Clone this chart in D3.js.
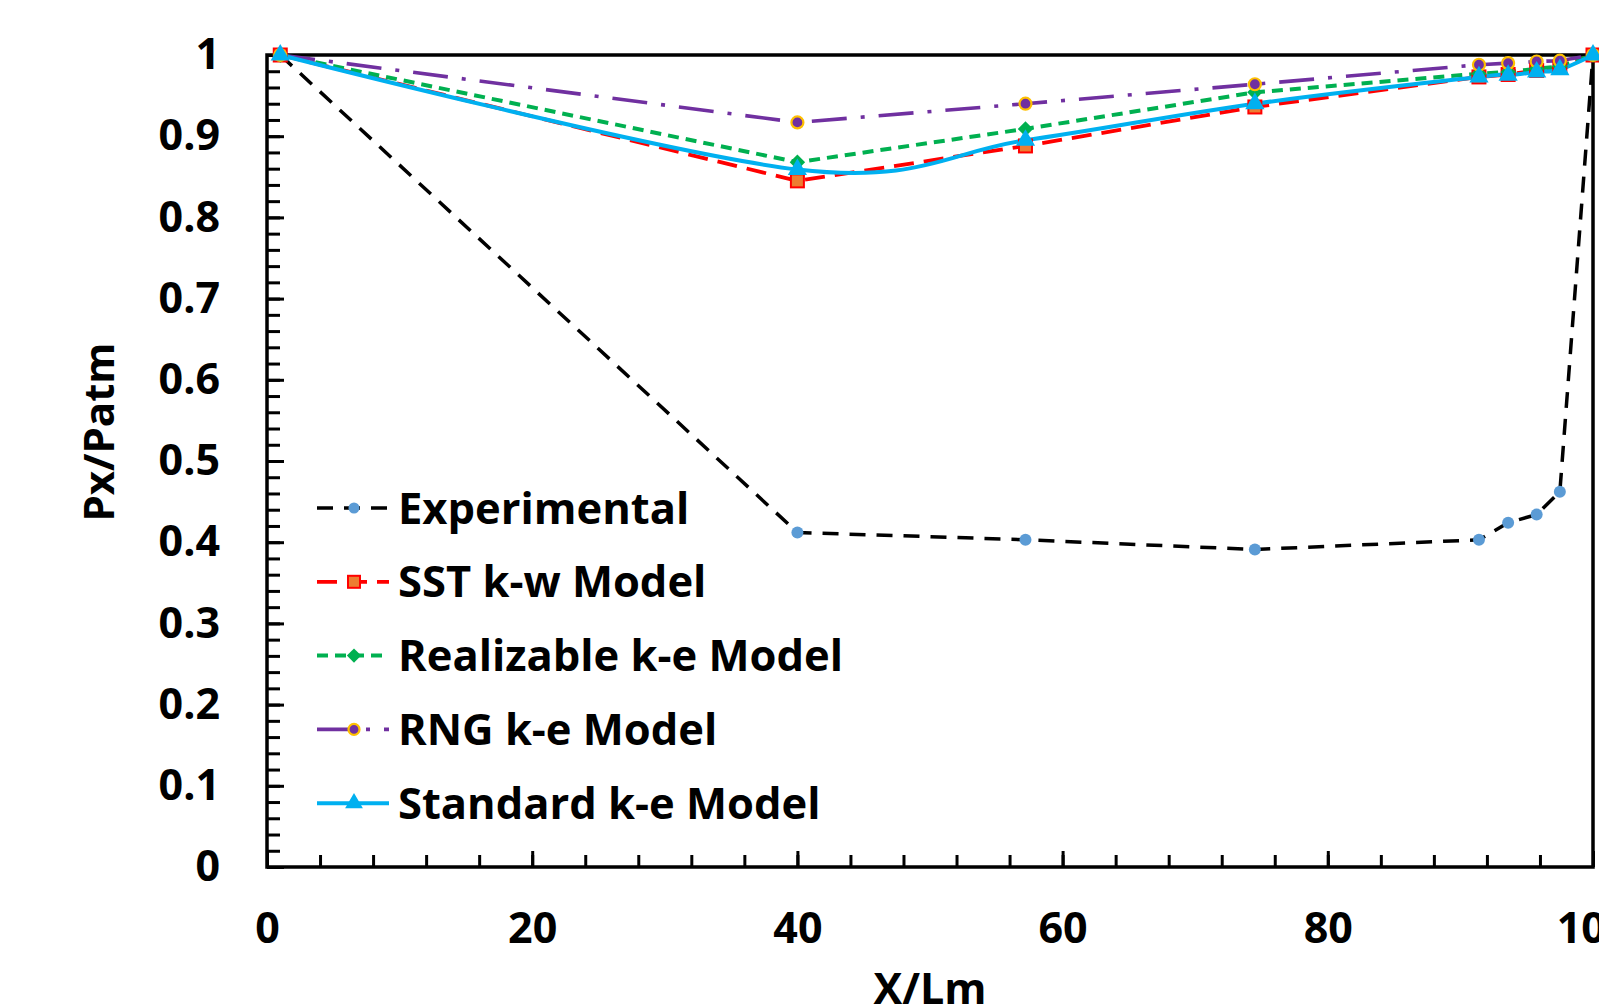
<!DOCTYPE html>
<html>
<head>
<meta charset="utf-8">
<script src="https://cdn.jsdelivr.net/npm/d3@7"></script>
<style>
  body { margin: 0; background: #fff; }
  svg { display: block; font-family: "Open Sans", sans-serif; font-weight: 700; }
</style>
</head>
<body>
<svg id="chart" width="1599" height="1007"></svg>
<script>
// DATA
const xValues = [1, 40, 57.2, 74.5, 91.4, 93.6, 95.75, 97.5, 100];
const experimental = [1.0, 0.412, 0.403, 0.391, 0.403, 0.424, 0.434, 0.462, 1.0];
const sstKw = [1.0, 0.845, 0.888, 0.936, 0.973, 0.976, 0.981, 0.985, 1.0];
const realizableKe = [1.0, 0.868, 0.909, 0.954, 0.977, 0.979, 0.983, 0.986, 1.0];
const rngKe = [1.0, 0.917, 0.940, 0.964, 0.988, 0.990, 0.992, 0.993, 1.0];
const standardKe = [1.0, 0.859, 0.895, 0.940, 0.973, 0.975, 0.979, 0.982, 1.0];

const seriesNames = ["Experimental", "SST k-w Model", "Realizable k-e Model", "RNG k-e Model", "Standard k-e Model"];
const xTickLabels = ["0", "20", "40", "60", "80", "100"];
const yTickLabels = ["0", "0.1", "0.2", "0.3", "0.4", "0.5", "0.6", "0.7", "0.8", "0.9", "1"];

// styling per series
const styles = [
  { line: "#000000", dash: "16,11", width: 3.5, marker: "circle", fill: "#5B9BD5", stroke: "#5B9BD5", curve: d3.curveLinear },
  { line: "#FF0000", dash: "20,10", width: 3.8, marker: "square", fill: "#ED7D31", stroke: "#FF0000", curve: d3.curveLinear },
  { line: "#00B050", dash: "11,7", width: 4, marker: "diamond", fill: "#00B050", stroke: "#00B050", curve: d3.curveLinear },
  { line: "#7030A0", dash: "35,14,4,14", width: 3.6, marker: "circle", fill: "#7030A0", stroke: "#FFC000", curve: d3.curveLinear },
  { line: "#00B0F0", dash: null, width: 4, marker: "triangle", fill: "#00B0F0", stroke: "#00B0F0", curve: d3.curveCardinal.tension(0) }
];

const allSeries = [experimental, sstKw, realizableKe, rngKe, standardKe];
const series = seriesNames.map((name, i) => ({
  name: name,
  style: styles[i],
  values: xValues.map((x, j) => ({ x: x, y: allSeries[i][j] }))
}));

const margin = { top: 55, left: 267, right: 6, bottom: 140 };
const svg = d3.select("#chart");
const width = +svg.attr("width");
const height = +svg.attr("height");
const innerWidth = width - margin.left - margin.right;
const innerHeight = height - margin.top - margin.bottom;

const g = svg.append("g").attr("transform", `translate(${margin.left},${margin.top})`);

const x = d3.scaleLinear().domain([0, 100]).range([0, innerWidth]);
const y = d3.scaleLinear().domain([0, 1]).range([innerHeight, 0]);

// minor ticks
g.append("g")
  .attr("transform", `translate(0,${innerHeight})`)
  .call(d3.axisBottom(x).tickValues(d3.range(0, 101, 4)).tickSize(-12).tickSizeOuter(0).tickFormat(""))
  .call(a => a.select(".domain").remove());
g.append("g")
  .call(d3.axisLeft(y).tickValues(d3.range(0, 1.001, 0.02)).tickSize(-13).tickSizeOuter(0).tickFormat(""))
  .call(a => a.select(".domain").remove());

// major ticks + labels
const xAxisG = g.append("g")
  .attr("transform", `translate(0,${innerHeight})`)
  .call(d3.axisBottom(x).tickValues(d3.range(0, 101, 20)).tickSize(-16).tickSizeOuter(0)
    .tickPadding(45).tickFormat((d, i) => xTickLabels[i]));
const yAxisG = g.append("g")
  .call(d3.axisLeft(y).tickValues(d3.range(0, 11).map(d => d / 10)).tickSize(-17).tickSizeOuter(0)
    .tickPadding(47).tickFormat((d, i) => yTickLabels[i]));

g.selectAll(".tick line").attr("stroke", "#000").attr("stroke-width", 3);
g.selectAll(".tick text").attr("font-size", 43).attr("font-family", "'Open Sans', sans-serif")
  .attr("font-weight", 700).attr("fill", "#000");
g.selectAll(".domain").remove();

// frame
g.append("rect")
  .attr("width", innerWidth)
  .attr("height", innerHeight)
  .attr("fill", "none")
  .attr("stroke", "#000")
  .attr("stroke-width", 3.5);

function drawMarker(sel, st, size) {
  const s = size;
  if (st.marker == "circle") {
    sel.append("circle").attr("r", s / 2 - 0.5)
      .attr("fill", st.fill).attr("stroke", st.stroke).attr("stroke-width", st.stroke == st.fill ? 0 : 2.2);
  } else if (st.marker == "square") {
    sel.append("rect").attr("x", -s / 2).attr("y", -s / 2).attr("width", s).attr("height", s)
      .attr("fill", st.fill).attr("stroke", st.stroke).attr("stroke-width", 2);
  } else if (st.marker == "diamond") {
    sel.append("path").attr("d", d3.symbol(d3.symbolDiamond2, s * s * 0.9)())
      .attr("fill", st.fill);
  } else {
    sel.append("path").attr("d", d3.symbol(d3.symbolTriangle, s * s * 0.95)())
      .attr("fill", st.fill);
  }
}

const line = d3.line().x(d => x(d.x)).y(d => y(d.y));

series.forEach(s => {
  g.append("path")
    .datum(s.values)
    .attr("fill", "none")
    .attr("stroke", s.style.line)
    .attr("stroke-width", s.style.width)
    .attr("stroke-dasharray", s.style.dash)
    .attr("d", line.curve(s.style.curve));
});

series.forEach(s => {
  g.selectAll(null)
    .data(s.values)
    .enter().append("g")
    .attr("transform", d => `translate(${x(d.x)},${y(d.y)})`)
    .each(function () { drawMarker(d3.select(this), s.style, 13); });
});

// axis titles
svg.append("text")
  .attr("x", margin.left + innerWidth / 2)
  .attr("y", 1004)
  .attr("text-anchor", "middle")
  .attr("font-size", 43)
  .text("X/Lm");

svg.append("text")
  .attr("transform", "translate(114,432) rotate(-90)")
  .attr("text-anchor", "middle")
  .attr("font-size", 42)
  .text("Px/Patm");

// legend
const legend = svg.append("g").attr("transform", "translate(317,508)");
const rows = legend.selectAll("g")
  .data(series)
  .enter().append("g")
  .attr("transform", (d, i) => `translate(0,${i * 73.8})`);

rows.append("line")
  .attr("x1", 0).attr("x2", 72)
  .attr("stroke", d => d.style.line)
  .attr("stroke-width", d => d.style.width)
  .attr("stroke-dasharray", d => d.style.dash);

rows.append("g")
  .attr("transform", "translate(37,0)")
  .each(function (d) { drawMarker(d3.select(this), d.style, 12); });

rows.append("text")
  .attr("x", 81)
  .attr("dy", "0.36em")
  .attr("font-size", 43.5)
  .text(d => d.name);
</script>
</body>
</html>
